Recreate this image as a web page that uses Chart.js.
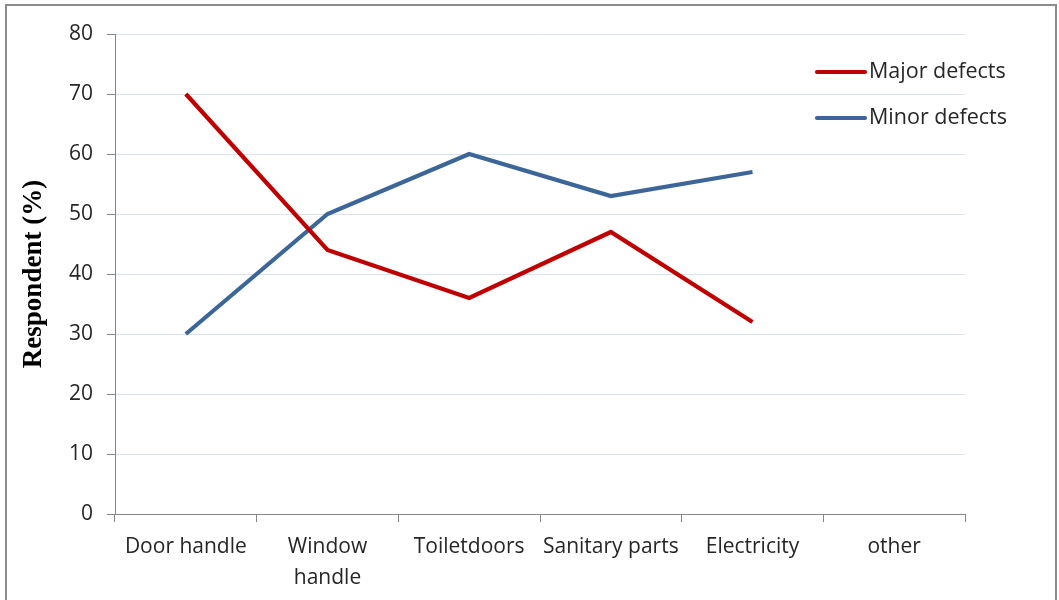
<!DOCTYPE html>
<html>
<head>
<meta charset="utf-8">
<script src="https://cdn.jsdelivr.net/npm/chart.js@4/dist/chart.umd.min.js"></script>
<style>
  html, body { margin: 0; padding: 0; background: #ffffff; overflow: hidden; }
  #frame { position: absolute; left: 5px; top: 4px; width: 1052px; height: 700px; box-sizing: border-box; border: 2px solid #8c8c8c; }
  #wrap { position: absolute; left: 0; top: 0; width: 1059px; height: 600px; }
</style>
</head>
<body>
<div id="frame"></div>
<div id="wrap"><canvas id="c" width="1059" height="600"></canvas></div>
<script>
const categories = ['Door handle', ['Window', 'handle'], 'Toiletdoors', 'Sanitary parts', 'Electricity', 'other'];
const majorDefects = [70, 44, 36, 47, 32, null];
const minorDefects = [30, 50, 60, 53, 57, null];
const seriesNames = ['Major defects', 'Minor defects'];
const yTicks = [0, 10, 20, 30, 40, 50, 60, 70, 80];

const FONT = "'Open Sans', sans-serif";
const TEXT = '#262626';
const AXIS = '#868686';

const legendPlugin = {
  id: 'customLegend',
  afterDraw(chart) {
    const ctx = chart.ctx;
    ctx.save();
    chart.data.datasets.forEach((ds, i) => {
      const y = 72 + i * 46;
      ctx.strokeStyle = ds.borderColor;
      ctx.lineWidth = ds.borderWidth;
      ctx.lineCap = 'round';
      ctx.beginPath();
      ctx.moveTo(817, y);
      ctx.lineTo(865, y);
      ctx.stroke();
      ctx.fillStyle = TEXT;
      ctx.font = "21.5px " + FONT;
      ctx.textBaseline = 'middle';
      ctx.textAlign = 'left';
      ctx.fillText(ds.label, 869, y);
    });
    ctx.restore();
  }
};

new Chart(document.getElementById('c'), {
  type: 'line',
  data: {
    labels: categories,
    datasets: [
      { label: seriesNames[0], data: majorDefects, borderColor: '#c00000', backgroundColor: '#c00000', borderWidth: 4.2, pointRadius: 0, tension: 0, spanGaps: false },
      { label: seriesNames[1], data: minorDefects, borderColor: '#3c6699', backgroundColor: '#3c6699', borderWidth: 4.2, pointRadius: 0, tension: 0, spanGaps: false }
    ]
  },
  options: {
    responsive: false,
    animation: false,
    layout: { padding: { left: 0, top: 34, right: 94, bottom: 0 } },
    plugins: { legend: { display: false }, tooltip: { enabled: false } },
    scales: {
      x: {
        type: 'category',
        offset: true,
        grid: { display: true, offset: true, drawOnChartArea: false, tickLength: 8, tickColor: AXIS, color: AXIS },
        border: { display: true, color: AXIS, width: 1 },
        ticks: { color: TEXT, font: { family: FONT, size: 21, lineHeight: 1.45 }, padding: 10, maxRotation: 0, autoSkip: false },
        afterFit(scale) { scale.height = 86; }
      },
      y: {
        min: 0, max: 80,
        afterBuildTicks(scale) { scale.ticks = yTicks.map(v => ({ value: v })); },
        grid: { color: '#d9e4f1', tickLength: 8, tickColor: AXIS, lineWidth: 1 },
        border: { display: true, color: AXIS, width: 1 },
        ticks: { color: TEXT, font: { family: FONT, size: 21 }, padding: 14 },
        title: { display: true, text: 'Respondent (%)', color: '#000', font: { family: "'Liberation Serif', 'Times New Roman', serif", size: 27, weight: 'bold' }, padding: { top: 18, bottom: 0 } },
        afterFit(scale) { scale.width = 115; }
      }
    }
  },
  plugins: [legendPlugin]
});
</script>
</body>
</html>
